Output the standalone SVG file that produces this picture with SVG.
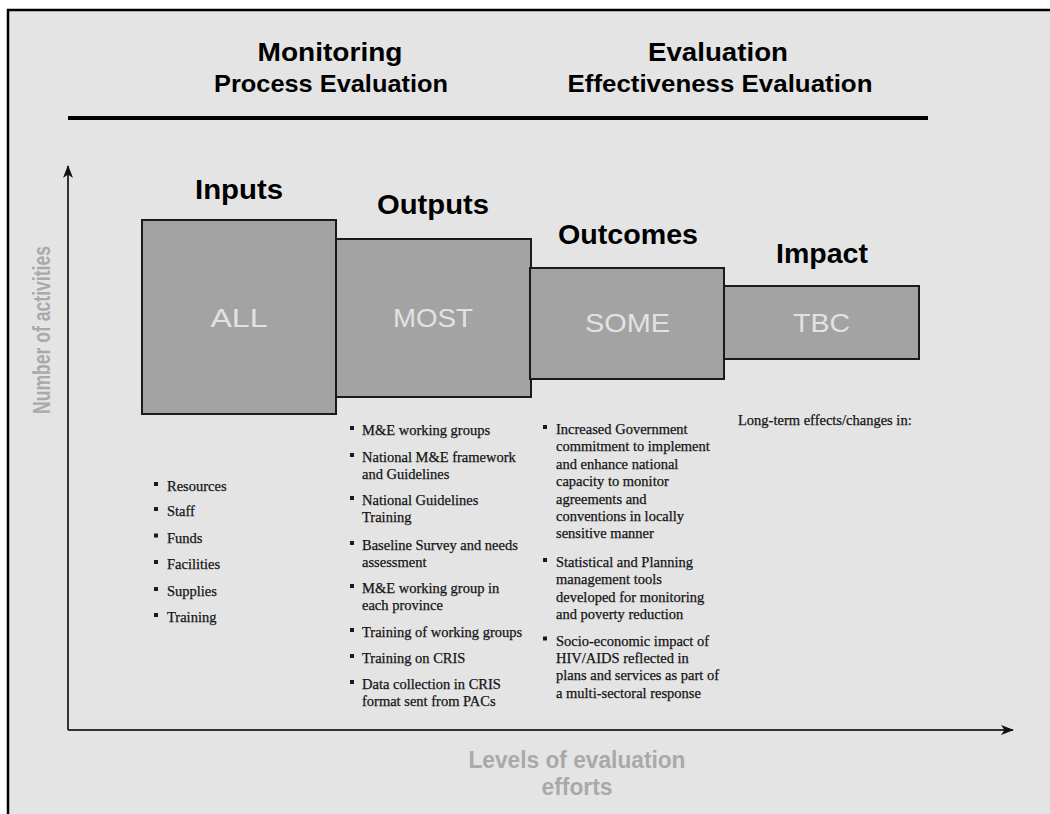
<svg xmlns="http://www.w3.org/2000/svg" width="1050" height="814" viewBox="0 0 1050 814">
  <defs>
    <style>
      .head { font-family: "Liberation Sans", Arial, sans-serif; font-weight: bold; fill: #000; text-anchor: middle; }
      .title { font-family: "Liberation Sans", Arial, sans-serif; font-weight: bold; font-size: 28px; fill: #000; text-anchor: middle; }
      .level { fill: #a3a3a3; stroke: #1a1a1a; stroke-width: 2; }
      .inner { font-family: "Liberation Sans", Arial, sans-serif; font-size: 26px; fill: #e2e2e2; text-anchor: middle; }
      .list { font-family: "Liberation Serif", "Times New Roman", serif; font-size: 14.5px; fill: #141414; stroke: #141414; stroke-width: 0.25; }
      .axislabel { font-family: "Liberation Sans", Arial, sans-serif; font-weight: bold; font-size: 23px; fill: #a9a9a9; text-anchor: middle; }
      .axis { stroke: #333; stroke-width: 2; fill: none; }
      .bullet { fill: #1a1a1a; }
    </style>
    <marker id="arrow" viewBox="0 0 13 10" refX="12" refY="5" markerWidth="13" markerHeight="10" markerUnits="userSpaceOnUse" orient="auto">
      <path d="M0,0 L13,5 L0,10 L3.5,5 z" fill="#111"/>
    </marker>
    <rect id="sq" x="-2" y="-2" width="4" height="4"/>
  </defs>

  <!-- page and frame -->
  <rect x="0" y="0" width="1050" height="814" fill="#ffffff"/>
  <rect x="8" y="10" width="1042" height="804" fill="#e4e4e4"/>
  <path d="M8,814 V10 H1050" fill="none" stroke="#000" stroke-width="2.5"/>

  <!-- header -->
  <g id="header">
    <text class="head" x="330" y="61" font-size="26" textLength="145" lengthAdjust="spacingAndGlyphs">Monitoring</text>
    <text class="head" x="331" y="92" font-size="24" textLength="234" lengthAdjust="spacingAndGlyphs">Process Evaluation</text>
    <text class="head" x="718" y="61" font-size="26" textLength="140" lengthAdjust="spacingAndGlyphs">Evaluation</text>
    <text class="head" x="720" y="92" font-size="24" textLength="305" lengthAdjust="spacingAndGlyphs">Effectiveness Evaluation</text>
    <line x1="68" y1="118" x2="928" y2="118" stroke="#000" stroke-width="4"/>
  </g>

  <!-- axes -->
  <g id="connectors">
    <line class="axis" x1="68" y1="730" x2="68" y2="166" marker-end="url(#arrow)"/>
    <line class="axis" x1="68" y1="730" x2="1013" y2="730" marker-end="url(#arrow)"/>
  </g>

  <text class="axislabel" transform="translate(50,330) rotate(-90)" textLength="168" lengthAdjust="spacingAndGlyphs">Number of activities</text>
  <text class="axislabel" x="577" y="768" textLength="217" lengthAdjust="spacingAndGlyphs">Levels of evaluation</text>
  <text class="axislabel" x="577" y="795" textLength="71" lengthAdjust="spacingAndGlyphs">efforts</text>

  <!-- Inputs -->
  <g id="inputs">
    <text class="title" x="239" y="199" textLength="88" lengthAdjust="spacingAndGlyphs">Inputs</text>
    <rect class="level" x="142" y="220" width="194" height="194"/>
    <text class="inner" x="239" y="327" textLength="57" lengthAdjust="spacingAndGlyphs">ALL</text>
    <g class="bullet">
      <use href="#sq" x="156" y="484"/>
      <use href="#sq" x="156" y="509"/>
      <use href="#sq" x="156" y="535.5"/>
      <use href="#sq" x="156" y="562"/>
      <use href="#sq" x="156" y="589"/>
      <use href="#sq" x="156" y="615"/>
    </g>
    <text class="list">
      <tspan x="167" y="491">Resources</tspan>
      <tspan x="167" y="516">Staff</tspan>
      <tspan x="167" y="542.5">Funds</tspan>
      <tspan x="167" y="569">Facilities</tspan>
      <tspan x="167" y="596">Supplies</tspan>
      <tspan x="167" y="622">Training</tspan>
    </text>
  </g>

  <!-- Outputs -->
  <g id="outputs">
    <text class="title" x="433" y="214" textLength="112" lengthAdjust="spacingAndGlyphs">Outputs</text>
    <rect class="level" x="336" y="239" width="195" height="158"/>
    <text class="inner" x="433" y="327" textLength="80" lengthAdjust="spacingAndGlyphs">MOST</text>
    <g class="bullet">
      <use href="#sq" x="352" y="428"/>
      <use href="#sq" x="352" y="455"/>
      <use href="#sq" x="352" y="498"/>
      <use href="#sq" x="352" y="543"/>
      <use href="#sq" x="352" y="586"/>
      <use href="#sq" x="352" y="630"/>
      <use href="#sq" x="352" y="656"/>
      <use href="#sq" x="352" y="682"/>
    </g>
    <text class="list">
      <tspan x="362" y="435">M&amp;E working groups</tspan>
      <tspan x="362" y="462">National M&amp;E framework</tspan>
      <tspan x="362" y="478.5">and Guidelines</tspan>
      <tspan x="362" y="505">National Guidelines</tspan>
      <tspan x="362" y="521.5">Training</tspan>
      <tspan x="362" y="550">Baseline Survey and needs</tspan>
      <tspan x="362" y="566.5">assessment</tspan>
      <tspan x="362" y="593">M&amp;E working group in</tspan>
      <tspan x="362" y="609.5">each province</tspan>
      <tspan x="362" y="637">Training of working groups</tspan>
      <tspan x="362" y="663">Training on CRIS</tspan>
      <tspan x="362" y="689">Data collection in CRIS</tspan>
      <tspan x="362" y="706">format sent from PACs</tspan>
    </text>
  </g>

  <!-- Outcomes -->
  <g id="outcomes">
    <text class="title" x="628" y="244" textLength="140" lengthAdjust="spacingAndGlyphs">Outcomes</text>
    <rect class="level" x="530" y="268" width="194" height="111"/>
    <text class="inner" x="627.5" y="332" textLength="85" lengthAdjust="spacingAndGlyphs">SOME</text>
    <g class="bullet">
      <use href="#sq" x="545" y="427"/>
      <use href="#sq" x="545" y="560"/>
      <use href="#sq" x="545" y="638.5"/>
    </g>
    <text class="list">
      <tspan x="556" y="434">Increased Government</tspan>
      <tspan x="556" y="451.4">commitment to implement</tspan>
      <tspan x="556" y="468.8">and enhance national</tspan>
      <tspan x="556" y="486.2">capacity to monitor</tspan>
      <tspan x="556" y="503.6">agreements and</tspan>
      <tspan x="556" y="521">conventions in locally</tspan>
      <tspan x="556" y="538.4">sensitive manner</tspan>
      <tspan x="556" y="567">Statistical and Planning</tspan>
      <tspan x="556" y="584.4">management tools</tspan>
      <tspan x="556" y="601.8">developed for monitoring</tspan>
      <tspan x="556" y="619.2">and poverty reduction</tspan>
      <tspan x="556" y="645.5">Socio-economic impact of</tspan>
      <tspan x="556" y="662.9">HIV/AIDS reflected in</tspan>
      <tspan x="556" y="680.3">plans and services as part of</tspan>
      <tspan x="556" y="697.7">a multi-sectoral response</tspan>
    </text>
  </g>

  <!-- Impact -->
  <g id="impact">
    <text class="title" x="822" y="263" textLength="92" lengthAdjust="spacingAndGlyphs">Impact</text>
    <rect class="level" x="724" y="286" width="195" height="73"/>
    <text class="inner" x="821.5" y="332" textLength="57" lengthAdjust="spacingAndGlyphs">TBC</text>
    <text class="list" x="738" y="425">Long-term effects/changes in:</text>
  </g>
</svg>
